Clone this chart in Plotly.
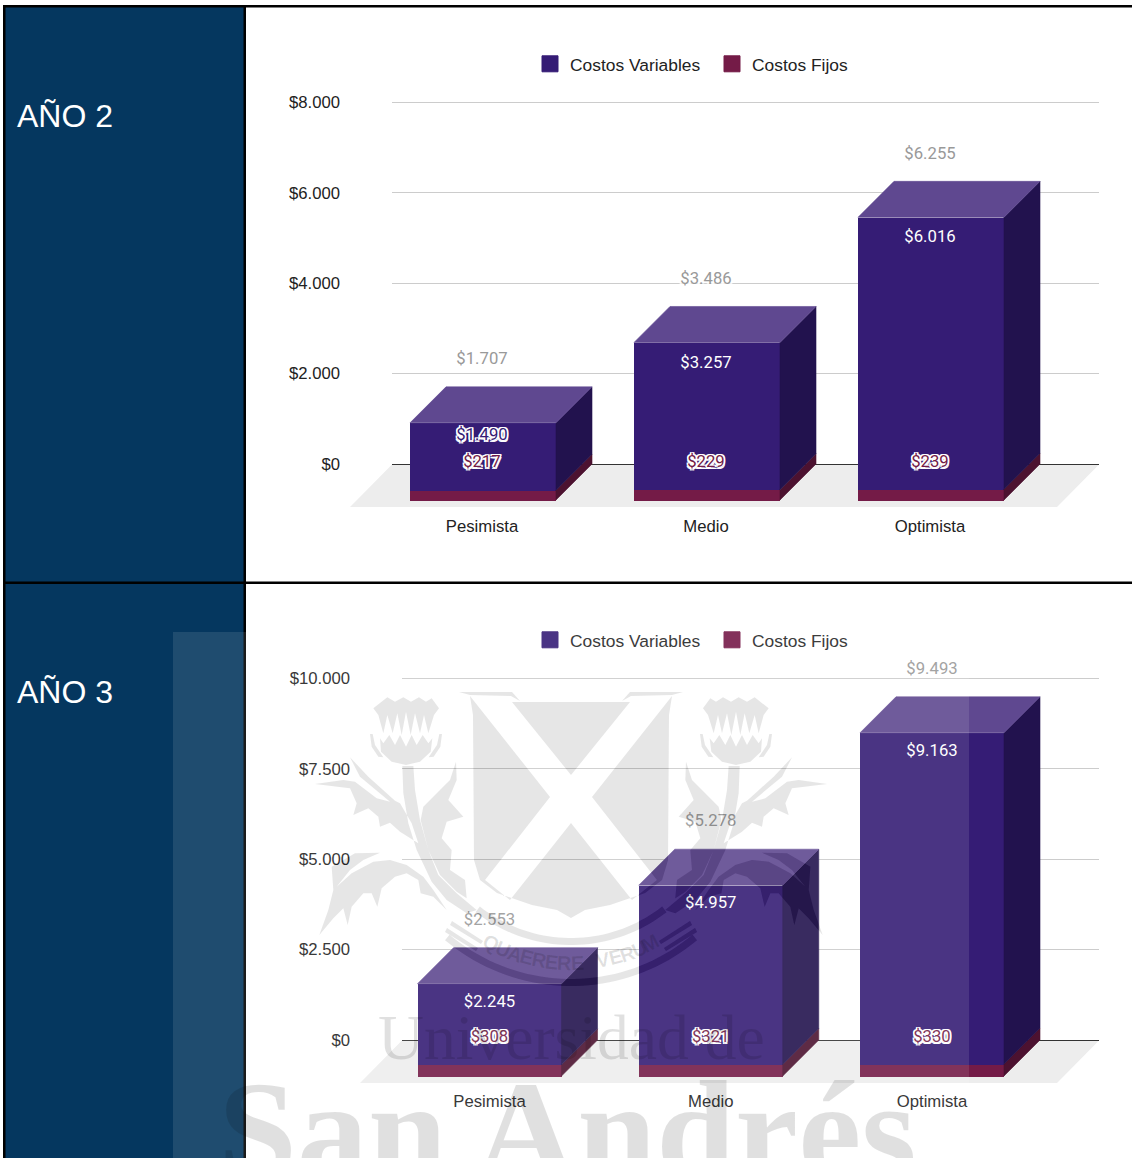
import numpy as np
import plotly.graph_objects as go

# ---------- data ----------
categories = ["Pesimista", "Medio", "Optimista"]
series_names = ["Costos Variables", "Costos Fijos"]
y2_variables = [1490, 3257, 6016]
y2_fijos = [217, 229, 239]
y3_variables = [2245, 4957, 9163]
y3_fijos = [308, 321, 330]
y2_ticks = [0, 2000, 4000, 6000, 8000]
y3_ticks = [0, 2500, 5000, 7500, 10000]
y2_var_below_top = [13, 21, 20]
y3_var_below_top = [19, 19, 19]
y2_outlined_var = [True, False, False]
y3_outlined_var = [False, False, False]

W, H = 1132, 1158
C_VAR, C_FIX, C_TOP, C_SIDE, C_FSIDE = "#351c75", "#741b47", "#5f4890", "#22124e", "#4c1230"
SANS = "Liberation Sans"
HALO = ",".join(f"{a}px {b}px 0 #fff" for a in (-1.5, 0, 1.5) for b in (-1.5, 0, 1.5) if a or b)
SOFT = ",".join(f"{a}px {b}px 1px #fff" for a in (-2, 2) for b in (-1, 1))


def money(v):
    return "$" + f"{v:,}".replace(",", ".")


def fx(x):
    return x / W


def fy(y):
    return 1 - y / H


fig = go.Figure()
shapes = []
annotations = []


def add_panel(n, variables, fijos, ticks, below_top, outlined, cfg):
    ax = "" if n == 1 else str(n)
    xa, ya = "x" + ax, "y" + ax
    scale = (cfg["zero"] - cfg["ymax_px"]) / ticks[-1]            # px per unit
    step, c0, hw_px, dep = cfg["step"], cfg["c0"], cfg["hw"], 36
    xmin = (cfg["left"] - c0) / step
    xmax = (1099 - c0) / step
    ymin = -(cfg["bottom"] - cfg["zero"]) / scale
    headroom = 40
    ymax = ticks[-1] + headroom / scale
    hw, dx, dy = hw_px / step, dep / step, dep / scale
    totals = [a + b for a, b in zip(variables, fijos)]
    xs = list(range(len(categories)))
    lab = cfg["labdx"] / step

    z = cfg["zero"]
    floor = [(cfg["left"], z + 0.5), (1099, z + 0.5), (1057, z + 43), (cfg["left"] - 42, z + 43)]
    shapes.append(dict(type="path", xref="paper", yref="paper", layer="below", line_width=0,
                       fillcolor="#ededed",
                       path="M" + " L".join(f"{fx(a):.5f},{fy(b):.5f}" for a, b in floor) + " Z"))

    fig.add_bar(x=xs, y=fijos, base=[-dy] * 3, width=2 * hw, marker_color=C_FIX,
                marker_line_width=0, showlegend=False, xaxis=xa, yaxis=ya, name=series_names[1])
    fig.add_bar(x=xs, y=variables, base=[f - dy for f in fijos], width=2 * hw, marker_color=C_VAR,
                marker_line_width=0, showlegend=False, xaxis=xa, yaxis=ya, name=series_names[0])

    def poly(px, py, color):
        fig.add_scatter(x=px, y=py, mode="lines", fill="toself", fillcolor=color, line=dict(width=0.6, color=color),
                        showlegend=False, hoverinfo="skip", xaxis=xa, yaxis=ya)

    for i, (v, f, t) in enumerate(zip(variables, fijos, totals)):
        x0, x1 = i - hw, i + hw
        poly([x1, x1 + dx, x1 + dx, x1, x1], [-dy, 0, f, f - dy, -dy], C_FSIDE)
        poly([x1, x1 + dx, x1 + dx, x1, x1], [f - dy, f, t, t - dy, f - dy], C_SIDE)
        poly([x0, x0 + dx, x1 + dx, x1, x0], [t - dy, t, t, t - dy, t - dy], C_TOP)

    def label(x, y, txt, color, shadow=None, family="Roboto"):
        font = dict(family=family, size=16.7, color=color)
        if shadow:
            font["shadow"] = shadow
        fig.add_scatter(x=[x], y=[y], mode="text", text=[txt], textposition="middle center", textfont=font,
                        showlegend=False, hoverinfo="skip", cliponaxis=False, xaxis=xa, yaxis=ya)

    for i, (v, f, t) in enumerate(zip(variables, fijos, totals)):
        label(i + lab, t + 27 / scale, money(t), "#999999", SOFT)
        vy = t - dy - below_top[i] / scale
        if outlined[i]:
            label(i + lab, vy, money(v), C_VAR, HALO)
        else:
            label(i + lab, vy, money(v), "#ffffff")
        label(i + lab, cfg["fixlab"] / scale, money(f), C_FIX, HALO)

    leg = "legend" if n == 1 else "legend2"
    for name, col in zip(series_names, cfg["swatch"]):
        fig.add_scatter(x=[None], y=[None], mode="markers", name=name, xaxis=xa, yaxis=ya, legend=leg,
                        marker=dict(symbol="square", size=16, color=col, line=dict(width=1, color=col)))

    fig.update_layout({
        "xaxis" + ax: dict(domain=[fx(cfg["left"]), fx(1099)], range=[xmin, xmax], anchor=ya, tickmode="array",
                           tickvals=[x + lab for x in xs], ticktext=categories, showgrid=False, zeroline=False,
                           showline=False, ticks="", ticklabelstandoff=cfg["xstand"],
                           tickfont=dict(family=SANS, size=16.7, color="#222222")),
        "yaxis" + ax: dict(domain=[fy(cfg["bottom"]), fy(cfg["ymax_px"] - headroom)], range=[ymin, ymax], anchor=xa,
                           tickmode="array", tickvals=ticks, ticktext=[money(t) for t in ticks],
                           showgrid=True, gridcolor="#cccccc", gridwidth=1, zeroline=True, zerolinecolor="#333333",
                           zerolinewidth=1, showline=False, ticks="", ticklabelstandoff=cfg["ystand"],
                           tickfont=dict(family=SANS, size=16.7, color="#222222")),
        leg: dict(orientation="h", x=fx(530), xanchor="left", y=fy(cfg["legy"]), yanchor="middle",
                  entrywidth=137, entrywidthmode="pixels", itemclick=False, itemdoubleclick=False, traceorder="normal",
                  bgcolor="rgba(0,0,0,0)", font=dict(family=SANS, size=17.4, color=cfg["legfont"]), itemsizing="trace"),
    })


def rect(x0, y0, x1, y1, color, layer="below"):
    shapes.append(dict(type="rect", xref="paper", yref="paper", x0=fx(x0), x1=fx(x1), y0=fy(y0), y1=fy(y1),
                       fillcolor=color, line_width=0, layer=layer))


rect(5, 7, 245, 1158, "#05375f")
rect(3, 5, 5.5, 1158, "#000000")
rect(3, 5, 1132, 7.5, "#000000")
rect(3, 581.5, 1132, 584, "#000000")
rect(243.5, 5, 246, 1158, "#000000")

add_panel(1, y2_variables, y2_fijos, y2_ticks, y2_var_below_top, y2_outlined_var,
          dict(zero=464, ymax_px=102.5, step=224, c0=483, hw=73, left=392, bottom=510, fixlab=1, labdx=-1, xstand=4, ystand=51,
               legy=64, swatch=[C_VAR, C_FIX], legfont="#222222"))
add_panel(2, y3_variables, y3_fijos, y3_ticks, y3_var_below_top, y3_outlined_var,
          dict(zero=1040, ymax_px=678.5, step=221.25, c0=489.5, hw=72, left=402, bottom=1086, fixlab=2, labdx=0, xstand=3, ystand=51,
               legy=640, swatch=["#4a3484", "#83315b"], legfont="#3c3c3c"))

for txt, y in (("AÑO 2", 116), ("AÑO 3", 692)):
    annotations.append(dict(text=txt, xref="paper", yref="paper", x=fx(15), y=fy(y), xanchor="left", yanchor="middle",
                            showarrow=False, font=dict(family=SANS, size=32, color="#ffffff")))


def z4(pts):
    return [(300 + a / 3, 680 + b / 3) for a, b in pts]


def mirror(pts):
    return [(1142 - a, b) for a, b in pts]


def arc(r0, r1, a0, a1, cx=571, cy=790, n=40):
    t = np.radians(np.linspace(a0, a1, n))
    o = [(cx + r1 * np.sin(v), cy + r1 * np.cos(v)) for v in t]
    i = [(cx + r0 * np.sin(v), cy + r0 * np.cos(v)) for v in t[::-1]]
    return o + i


main_shield = [(470, 696), (550, 797), (485, 880), (510, 900), (571, 823), (632, 900), (657, 880), (592, 797), (672, 696),
               (669, 715), (668, 860), (662, 880), (645, 893), (610, 905), (585, 910), (571, 918), (557, 910), (532, 905),
               (497, 893), (480, 880), (474, 860), (473, 715)]
top_piece = [(512, 702), (630, 702), (571, 775)]
sliver = [(459, 692), (512, 692), (520, 701), (511, 696), (470, 695)]
crown = [(220, 85), (262, 52), (285, 65), (310, 52), (333, 65), (357, 52), (378, 65), (395, 55), (417, 85), (402, 105), (385, 160),
         (372, 105), (360, 160), (345, 100), (332, 165), (318, 95), (305, 165), (292, 100), (278, 160), (262, 105), (250, 160), (235, 105)]
bowl = [(240, 175), (250, 190), (268, 165), (285, 195), (300, 165), (318, 200), (335, 165), (350, 195), (368, 165), (385, 190),
        (397, 175), (392, 215), (360, 245), (318, 255), (275, 245), (243, 215)]
cres_l = [(210, 162), (218, 162), (225, 195), (250, 232), (235, 230), (215, 200)]
cres_r = [(426, 162), (418, 162), (411, 195), (386, 232), (401, 230), (421, 200)]
leaf_a = [(150, 232), (205, 290), (255, 335), (285, 362), (300, 370), (335, 430), (355, 490), (300, 455), (270, 428), (240, 440), (235, 410),
          (205, 385), (160, 405), (170, 370), (150, 325), (45, 312), (130, 300), (165, 305), (230, 355), (270, 365), (180, 290)]
leaf_b = [(468, 245), (470, 300), (445, 360), (490, 410), (440, 425), (425, 475), (455, 510), (450, 570), (495, 600), (500, 655), (470, 635),
          (420, 585), (385, 510), (362, 420), (370, 380), (420, 330), (450, 300)]
stem = [(307, 258), (340, 258), (345, 330), (360, 420), (385, 510), (415, 585), (470, 640), (530, 690), (500, 700), (440, 660), (395, 605),
        (350, 510), (325, 430), (310, 340)]
leaf_d = [(240, 518), (165, 520), (95, 560), (100, 630), (85, 690), (58, 765), (100, 715), (130, 685), (143, 735), (155, 680), (190, 640),
          (215, 640), (232, 680), (245, 625), (285, 590), (320, 580), (355, 600), (362, 640), (400, 650), (440, 690), (400, 630),
          (370, 590), (320, 555), (270, 540), (220, 545), (155, 580), (110, 620), (150, 570), (190, 540)]
lines_l = [[(447, 928), (478, 948), (476, 951), (445, 932)], [(452, 921), (483, 941), (481, 944), (450, 925)]]

logo = [main_shield, top_piece, sliver, mirror(sliver)]
for part in (crown, bowl, cres_l, cres_r, leaf_a, leaf_b, stem, leaf_d):
    logo.append(z4(part))
    logo.append(mirror(z4(part)))
logo += lines_l + [mirror(p) for p in lines_l]
logo.append(arc(148, 155, -38, 38))
logo.append(arc(189, 196, -40, 40))


def to_path(pts):
    return "M" + " L".join(f"{fx(a):.5f},{fy(b):.5f}" for a, b in pts) + " Z"


logo_path = " ".join(to_path(p) for p in logo)
veil = to_path([(173, 632), (969, 632), (969, 1158), (173, 1158)])
shapes.append(dict(type="path", xref="paper", yref="paper", layer="above", line_width=0, fillrule="evenodd",
                   fillcolor="rgba(255,255,255,0.105)", path=veil + " " + logo_path))
shapes.append(dict(type="path", xref="paper", yref="paper", layer="above", line_width=0,
                   fillcolor="rgba(62,62,62,0.13)", path=logo_path))

WM = "rgba(0,0,0,0.12)"
annotations.append(dict(text="Universidad de", xref="paper", yref="paper", x=fx(376), y=fy(1075), xanchor="left", yanchor="bottom",
                        showarrow=False, font=dict(family="Liberation Serif", size=63.6, color=WM)))
annotations.append(dict(text="<b>San Andrés</b>", xref="paper", yref="paper", x=fx(216), y=fy(1212), xanchor="left", yanchor="bottom",
                        showarrow=False, font=dict(family="Liberation Serif", size=142, color=WM)))
motto = "QUAERERE VERUM"
for k, ch in enumerate(motto):
    th = -27.5 + 55 * k / (len(motto) - 1)
    r = np.radians(th)
    annotations.append(dict(text=f"<b>{ch}</b>", xref="paper", yref="paper", x=fx(571 + 173 * np.sin(r)), y=fy(790 + 173 * np.cos(r)),
                            xanchor="center", yanchor="middle", showarrow=False, textangle=-th,
                            font=dict(family=SANS, size=20, color=WM)))

fig.update_layout(width=W, height=H, margin=dict(l=0, r=0, t=0, b=0), paper_bgcolor="#ffffff", plot_bgcolor="rgba(0,0,0,0)",
                  barmode="overlay", hovermode=False, shapes=shapes, annotations=annotations, bargap=0)
fig.write_html("out.html", config={"displayModeBar": False},
               post_script="document.body.style.margin='0';document.body.style.overflow='hidden';")
